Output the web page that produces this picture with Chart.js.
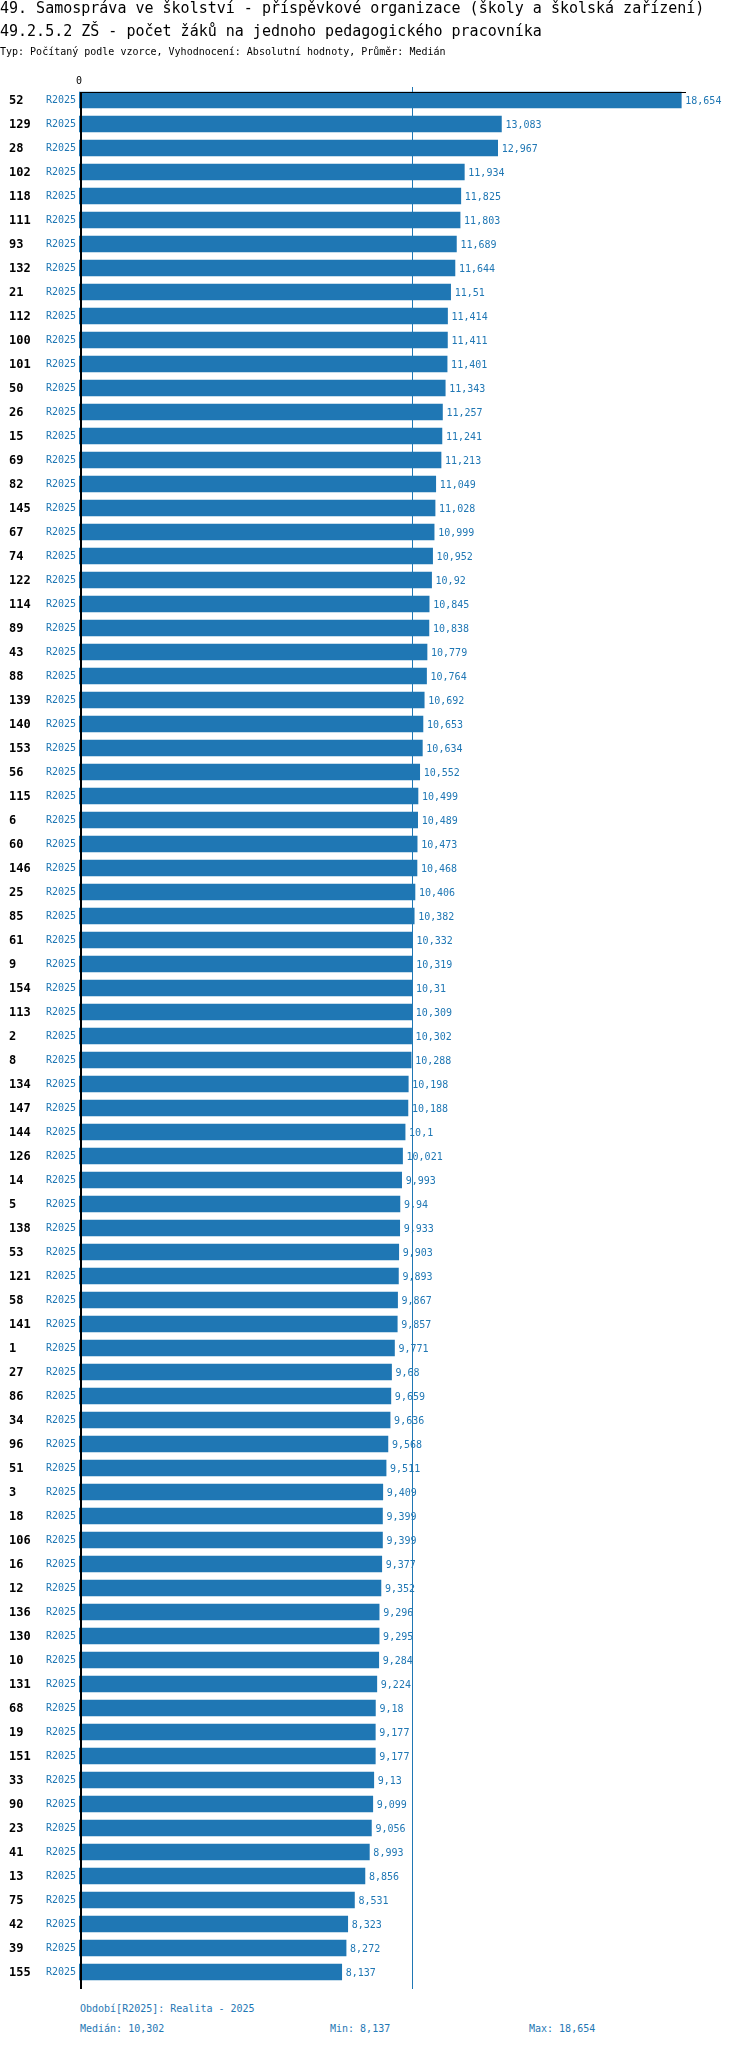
<!DOCTYPE html>
<html>
<head>
<meta charset="utf-8">
<script src="https://cdn.jsdelivr.net/npm/chart.js@4/dist/chart.umd.min.js"></script>
<style>
  body { margin: 0; background: #fff; }
  #wrap { position: relative; width: 750px; height: 2048px; }
  #wrap canvas { position: absolute; left: 0; top: 0; }
  .t { position: absolute; left: 0; white-space: pre; font-family: "DejaVu Sans Mono", monospace; line-height: 1; }
  .h { font-size: 15px; color: #000; }
  .s { font-size: 10px; color: #000; }
  .f { font-size: 10px; color: #1f77b4; }
</style>
</head>
<body>
<div id="wrap">
  <canvas id="myChart"></canvas>
  <div class="t h" style="top:1px">49. Samospráva ve školství - příspěvkové organizace (školy a školská zařízení)</div>
  <div class="t h" style="top:24px">49.2.5.2 ZŠ - počet žáků na jednoho pedagogického pracovníka</div>
  <div class="t s" style="top:47px">Typ: Počítaný podle vzorce, Vyhodnocení: Absolutní hodnoty, Průměr: Medián</div>
  <div class="t f" style="top:2004px;left:80px">Období[R2025]: Realita - 2025</div>
  <div class="t f" id="med" style="top:2024px;left:80px"></div>
  <div class="t f" id="min" style="top:2024px;left:330px"></div>
  <div class="t f" id="max" style="top:2024px;left:529px"></div>
</div>
<script>
const units = ["52","129","28","102","118","111","93","132","21","112","100","101","50","26","15","69","82","145","67","74",
  "122","114","89","43","88","139","140","153","56","115","6","60","146","25","85","61","9","154","113","2",
  "8","134","147","144","126","14","5","138","53","121","58","141","1","27","86","34","96","51","3","18",
  "106","16","12","136","130","10","131","68","19","151","33","90","23","41","13","75","42","39","155"];
const values = [18.654,13.083,12.967,11.934,11.825,11.803,11.689,11.644,11.51,11.414,11.411,11.401,11.343,11.257,11.241,11.213,11.049,11.028,10.999,10.952,
  10.92,10.845,10.838,10.779,10.764,10.692,10.653,10.634,10.552,10.499,10.489,10.473,10.468,10.406,10.382,10.332,10.319,10.31,10.309,10.302,
  10.288,10.198,10.188,10.1,10.021,9.993,9.94,9.933,9.903,9.893,9.867,9.857,9.771,9.68,9.659,9.636,9.568,9.511,9.409,9.399,
  9.399,9.377,9.352,9.296,9.295,9.284,9.224,9.18,9.177,9.177,9.13,9.099,9.056,8.993,8.856,8.531,8.323,8.272,8.137];
const period = "R2025";
const xTicks = [0];
const xMax = 18.8;

const blue = "#1f77b4";
const mono = "'DejaVu Sans Mono', monospace";

function fmt(v) {
  return String(v).replace(".", ",");
}

const sorted = values.slice().sort((a, b) => a - b);
const median = sorted[Math.floor(sorted.length / 2)];
document.getElementById("med").textContent = "Medián: " + fmt(median);
document.getElementById("min").textContent = "Min: " + fmt(sorted[0]);
document.getElementById("max").textContent = "Max: " + fmt(sorted[sorted.length - 1]);

// median line under bars, axis lines + labels on top
const decor = {
  id: "decor",
  beforeDatasetsDraw(chart) {
    const ctx = chart.ctx, a = chart.chartArea;
    const x = Math.round(chart.scales.x.getPixelForValue(median)) + 0.5;
    ctx.save();
    ctx.strokeStyle = blue;
    ctx.lineWidth = 1;
    ctx.beginPath();
    ctx.moveTo(x, a.top - 1);
    ctx.lineTo(x, a.bottom + 5);
    ctx.stroke();
    ctx.restore();
  },
  afterDatasetsDraw(chart) {
    const ctx = chart.ctx, a = chart.chartArea;
    const xs = chart.scales.x, ys = chart.scales.y;
    ctx.save();
    ctx.fillStyle = "#000";
    ctx.fillRect(a.left + 1, a.top + 4, 2, a.bottom - a.top + 1);
    ctx.fillRect(a.left + 1, a.top + 4, a.right - a.left - 1, 1);
    ctx.textBaseline = "middle";
    ctx.font = "bold 12px " + mono;
    ctx.textAlign = "left";
    units.forEach((u, i) => {
      ctx.fillText(u, 9, ys.getPixelForValue(i) + 1);
    });
    ctx.font = "10px " + mono;
    ctx.fillStyle = blue;
    values.forEach((v, i) => {
      ctx.fillText(fmt(v), xs.getPixelForValue(v) + 4, ys.getPixelForValue(i) + 1);
    });
    ctx.restore();
  }
};

let ctx = document.getElementById("myChart");
ctx.width = 750;
ctx.height = 2000;
ctx.style.width = "750px";
ctx.style.height = "2000px";

let myChart = new Chart(ctx, {
  type: "bar",
  data: {
    labels: units,
    datasets: [{
      data: values,
      backgroundColor: blue,
      borderWidth: 0,
      barThickness: 16
    }]
  },
  options: {
    indexAxis: "y",
    responsive: false,
    animation: false,
    layout: { padding: { top: 68, right: 64, bottom: 16, left: 0 } },
    plugins: { legend: { display: false }, tooltip: { enabled: false } },
    scales: {
      x: {
        position: "top",
        min: 0,
        max: xMax,
        afterBuildTicks: s => { s.ticks = xTicks.map(v => ({ value: v })); },
        afterFit: s => { s.height = 20; },
        grid: { display: false, drawTicks: false },
        border: { display: false },
        ticks: { color: "#000", padding: 1, font: { family: mono, size: 10 } }
      },
      y: {
        afterFit: s => { s.width = 79; },
        grid: { display: false, drawTicks: false },
        border: { display: false },
        ticks: {
          color: blue,
          padding: 3,
          autoSkip: false,
          font: { family: mono, size: 10 },
          callback: () => period
        }
      }
    }
  },
  plugins: [decor]
});
</script>
</body>
</html>
